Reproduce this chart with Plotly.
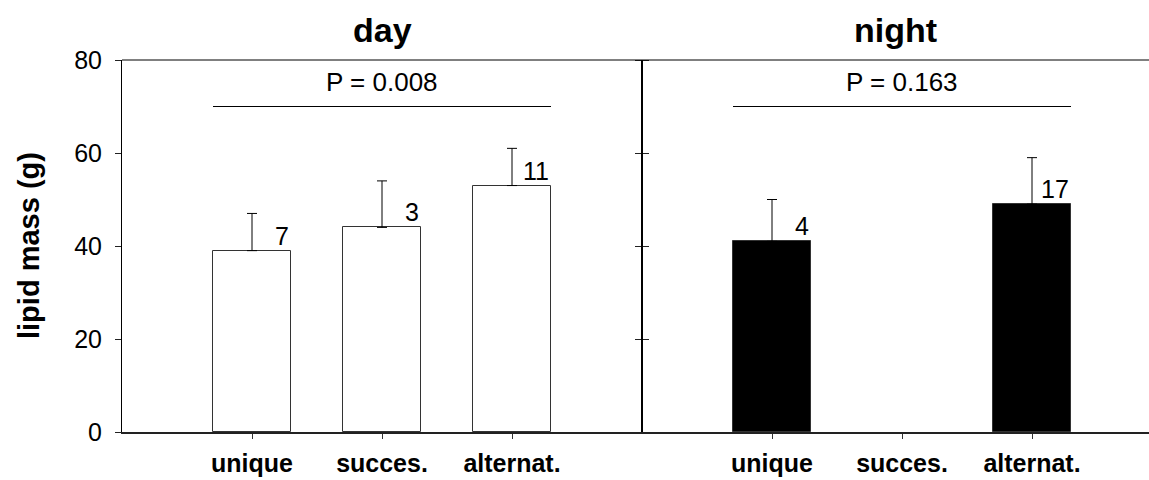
import plotly.graph_objects as go

# ---- data ----
categories = ["unique", "succes.", "alternat."]
cat_pos = [1, 2, 3]
day_mean = [39, 44, 53]
day_err = [8, 10, 8]
day_n = ["7", "3", "11"]
night_mean = [41, None, 49]
night_err = [9, None, 10]
night_n = ["4", "", "17"]
panel_titles = ["day", "night"]
p_values = ["P = 0.008", "P = 0.163"]
p_line_level = 70
p_text_level = 75.3
y_ticks = [0, 20, 40, 60, 80]

FONT = "Arial, 'Liberation Sans', Helvetica, sans-serif"
BAR_W = 0.6
split = 520 / 1027

fig = go.Figure()

def add_panel(means, errs, fill, xa, ya):
    fig.add_trace(go.Bar(
        x=cat_pos, y=means, width=BAR_W,
        marker=dict(color=fill, line=dict(color="#333333", width=1)),
        error_y=dict(type="data", symmetric=False, array=errs,
                     arrayminus=[0 if e is not None else None for e in errs],
                     color="black", thickness=1, width=5),
        xaxis=xa, yaxis=ya, showlegend=False, hoverinfo="skip",
    ))

add_panel(day_mean, day_err, "white", "x", "y")
add_panel(night_mean, night_err, "black", "x2", "y2")

# n labels
for means, errs, ns, xr, yr in [(day_mean, day_err, day_n, "x", "y"),
                                (night_mean, night_err, night_n, "x2", "y2")]:
    for p, m, n in zip(cat_pos, means, ns):
        if m is None or not n:
            continue
        fig.add_annotation(x=p, y=m, xref=xr, yref=yr, text=n, showarrow=False,
                           xanchor="right", yanchor="bottom", xshift=39, yshift=-1,
                           font=dict(family=FONT, size=25, color="black"))

# P lines and text
for ptxt, xr, yr in [(p_values[0], "x", "y"), (p_values[1], "x2", "y2")]:
    fig.add_shape(type="line", xref=xr, yref=yr,
                  x0=cat_pos[0] - BAR_W / 2, x1=cat_pos[-1] + BAR_W / 2,
                  y0=p_line_level, y1=p_line_level,
                  line=dict(color="black", width=1))
    fig.add_annotation(x=cat_pos[1], y=p_text_level, xref=xr, yref=yr, text=ptxt,
                       showarrow=False, xanchor="center", yanchor="middle",
                       font=dict(family=FONT, size=26, color="black"))

# panel titles
for t, cx in [(panel_titles[0], split / 2), (panel_titles[1], (split + 1) / 2)]:
    fig.add_annotation(x=cx, y=1, xref="paper", yref="paper", text="<b>%s</b>" % t,
                       showarrow=False, xanchor="center", yanchor="bottom", yshift=9,
                       font=dict(family=FONT, size=34, color="black"))

# y axis title
fig.add_annotation(x=0, y=0.5, xref="paper", yref="paper", text="<b>lipid mass (g)</b>",
                   textangle=-90, showarrow=False, xanchor="center", yanchor="middle",
                   xshift=-93, font=dict(family=FONT, size=29, color="black"))

xcommon = dict(tickvals=cat_pos, ticktext=["<b>%s</b>" % c for c in categories],
               ticks="outside", ticklen=5, tickcolor="#333", showline=True,
               linecolor="#222", linewidth=2, showgrid=False, zeroline=False,
               ticklabelstandoff=3, automargin=False,
               tickfont=dict(family=FONT, size=25, color="black"))

fig.update_layout(
    width=1149, height=480,
    margin=dict(l=122, r=0, t=60, b=48, autoexpand=False),
    paper_bgcolor="white", plot_bgcolor="white",
    bargap=0,
    xaxis=dict(domain=[0, split], range=[0, 4], anchor="y", **xcommon),
    xaxis2=dict(domain=[split, 1], range=[0, 3.9], anchor="y2", **xcommon),
    yaxis=dict(range=[0, 80], tickvals=y_ticks, ticks="outside", ticklen=6,
               tickcolor="#222", showline=True, linecolor="black", linewidth=1,
               mirror="ticks", showgrid=False, zeroline=False, anchor="x",
               automargin=False, ticklabelstandoff=8,
               tickfont=dict(family=FONT, size=25, color="black")),
    yaxis2=dict(range=[0, 80], tickvals=y_ticks, ticks="outside", ticklen=6,
                tickcolor="#222", showline=True, linecolor="black", linewidth=1,
                showticklabels=False, showgrid=False, zeroline=False, anchor="x2"),
)

# top border across both panels
fig.add_shape(type="line", xref="paper", yref="paper", x0=0, x1=1, y0=1, y1=1,
              line=dict(color="black", width=1))

fig.write_html("out.html", config={"displayModeBar": False},
               post_script="document.body.style.margin='0px';document.body.style.overflow='hidden';")
